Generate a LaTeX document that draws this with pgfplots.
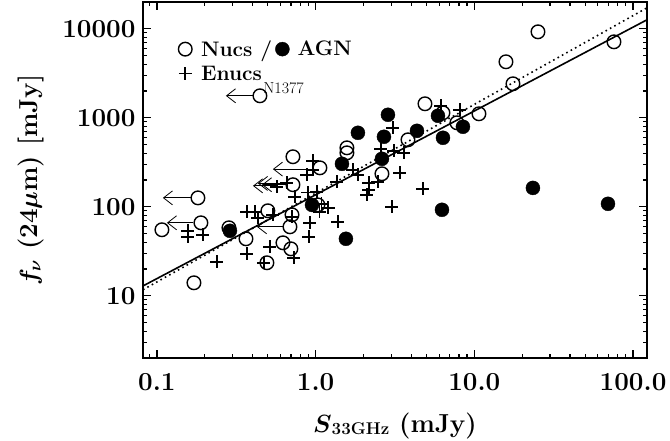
\documentclass[border=0pt]{standalone}
\usepackage{pgfplots}
\pgfplotsset{compat=1.18}
\usetikzlibrary{arrows.meta}
\begin{document}
\begin{tikzpicture}
\useasboundingbox (-143pt,-82pt) rectangle (527pt,358pt);
\begin{axis}[
  at={(0pt,0pt)}, anchor=south west,
  scale only axis, width=504pt, height=356pt,
  xmode=log, ymode=log,
  xmin=0.0817, xmax=122.4, ymin=2, ymax=20000,
  axis line style={line width=1.6pt},
  every tick/.style={line width=1.2pt, black},
  tick align=inside, tick pos=both,
  major tick length=8pt, minor tick length=4pt,
  xtick={0.1,1,10,100}, xticklabels={0.1,1.0,10.0,100.0},
  minor xtick={0.09,0.2,0.3,0.4,0.5,0.6,0.7,0.8,0.9,2,3,4,5,6,7,8,9,20,30,40,50,60,70,80,90},
  ytick={10,100,1000,10000}, yticklabels={10,100,1000,10000},
  minor ytick={3,4,5,6,7,8,9,20,30,40,50,60,70,80,90,200,300,400,500,600,700,800,900,2000,3000,4000,5000,6000,7000,8000,9000,20000},
  ticklabel style={font=\fontsize{26}{30}\selectfont\bfseries},
  xticklabel style={yshift=-12pt},
  yticklabel style={xshift=-4pt},
  xlabel={{\boldmath$S$}\raisebox{-2pt}{\fontsize{17}{17}\selectfont\bfseries 33GHz}\ (mJy)},
  ylabel={{\boldmath$f_{\nu}$} (24{\boldmath$\mu$}m) [mJy]},
  xlabel style={at={(axis description cs:0.5,-0.208)}, anchor=base, font=\fontsize{26}{30}\selectfont\bfseries},
  ylabel style={at={(axis description cs:-0.2103,0.5)}, anchor=base, font=\fontsize{26}{30}\selectfont\bfseries},
  legend columns=2,
  legend style={draw=none, fill=none, at={(axis description cs:0.066,0.898)}, anchor=north west,
    font=\fontsize{21}{25}\selectfont\bfseries, inner sep=0pt, column sep=0pt, row sep=4pt},
  legend cell align=left,
  legend image code/.code={\path (0pt,0pt) (21pt,0pt); \draw[mark repeat=2,mark phase=2,#1] plot coordinates {(0pt,0pt)(8pt,0pt)(16pt,0pt)};},
]
% upper-limit arrows
\addplot[forget plot, line width=0.8pt, -{Straight Barb[length=9pt,width=14pt,line width=0.8pt]}] coordinates {(0.401,1767) (0.272,1767)};
\addplot[forget plot, line width=0.8pt, -{Straight Barb[length=9pt,width=14pt,line width=0.8pt]}] coordinates {(0.163,126) (0.109,126)};
\addplot[forget plot, line width=0.8pt, -{Straight Barb[length=9pt,width=14pt,line width=0.8pt]}] coordinates {(0.170,66.1) (0.1156,66.1)};
\addplot[forget plot, line width=0.8pt, -{Straight Barb[length=9pt,width=14pt,line width=0.8pt]}] coordinates {(0.96,265) (0.538,265)};
\addplot[forget plot, line width=0.8pt, -{Straight Barb[length=9pt,width=14pt,line width=0.8pt]}] coordinates {(0.647,177) (0.459,177)};
\addplot[forget plot, line width=0.8pt, -{Straight Barb[length=9pt,width=14pt,line width=0.8pt]}] coordinates {(0.62,183) (0.433,183)};
\addplot[forget plot, line width=0.8pt, -{Straight Barb[length=9pt,width=14pt,line width=0.8pt]}] coordinates {(0.57,172) (0.403,172)};
\addplot[forget plot, line width=0.8pt, -{Straight Barb[length=9pt,width=14pt,line width=0.8pt]}] coordinates {(0.62,59.6) (0.427,59.6)};
% fits
\addplot[forget plot, line width=1.6pt] coordinates {(0.0817,12.9) (122.4,12620)};
\addplot[forget plot, line width=1.6pt, dash pattern=on 1.6pt off 3.4pt] coordinates {(0.0817,11.7) (122.4,17200)};
% Nucs
\addplot[only marks, mark=o, mark size=6.8pt, line width=1.4pt, black] coordinates {
(0.1075,55.2) (0.1813,126) (0.1893,66.1) (0.1711,14.0) (0.2843,58.1) (0.364,43.7)
(0.4456,1767) (0.500,90.2) (0.4932,23.5) (0.6223,39.4) (0.6985,33.7) (0.7096,81.3)
(0.689,59.6) (0.7194,365) (0.7194,177) (1.064,274) (1.034,105) (1.574,460) (1.574,404)
(2.617,235) (3.818,566) (4.885,1437) (6.343,1138) (7.763,879) (10.69,1109)
(15.82,4260) (17.51,2410) (25.17,9250) (75.8,7140)
};
\addlegendentry{Nucs /}
% AGN
\addplot[only marks, mark=*, mark size=7pt, black] coordinates {
(0.2884,53.7) (0.9484,105) (1.552,43.7) (1.465,304) (1.847,678) (2.855,1081)
(2.694,612) (2.617,346) (4.349,714) (5.9,1053) (6.343,596) (8.474,793)
(6.251,92.5) (23.39,163) (69.5,108)
};
\addlegendentry{AGN}
% Enucs
\addplot[only marks, mark=+, mark size=6.5pt, line width=1.6pt, black] coordinates {
(0.1568,53.7) (0.1568,46.0) (0.195,48.4) (0.2388,24.1) (0.369,87.9) (0.414,87.9)
(0.4325,75.2) (0.369,29.6) (0.472,23.5) (0.515,35.5) (0.5382,81.3) (0.5702,168)
(0.6595,186) (0.7096,77.2) (0.7396,129) (0.7295,26.7) (0.8935,144) (0.9615,329)
(0.9615,261) (0.881,229) (1.019,147) (1.09,108) (1.2,97) (1.06,88) (0.92,66.1)
(0.908,46.0) (1.382,67.8) (1.362,191) (1.718,261) (1.847,229) (2.104,136)
(2.167,186) (2.167,155) (2.469,191) (2.578,448) (3.113,426) (3.599,404)
(3.07,772) (3.397,241) (4.743,159) (3.026,100) (6.163,1364) (8.11,1230)
};
\addlegendentry{Enucs}
\node[anchor=west, font=\fontsize{16}{18}\selectfont] at (axis cs:0.445,2170) {N1377};
\end{axis}
\end{tikzpicture}
\end{document}
